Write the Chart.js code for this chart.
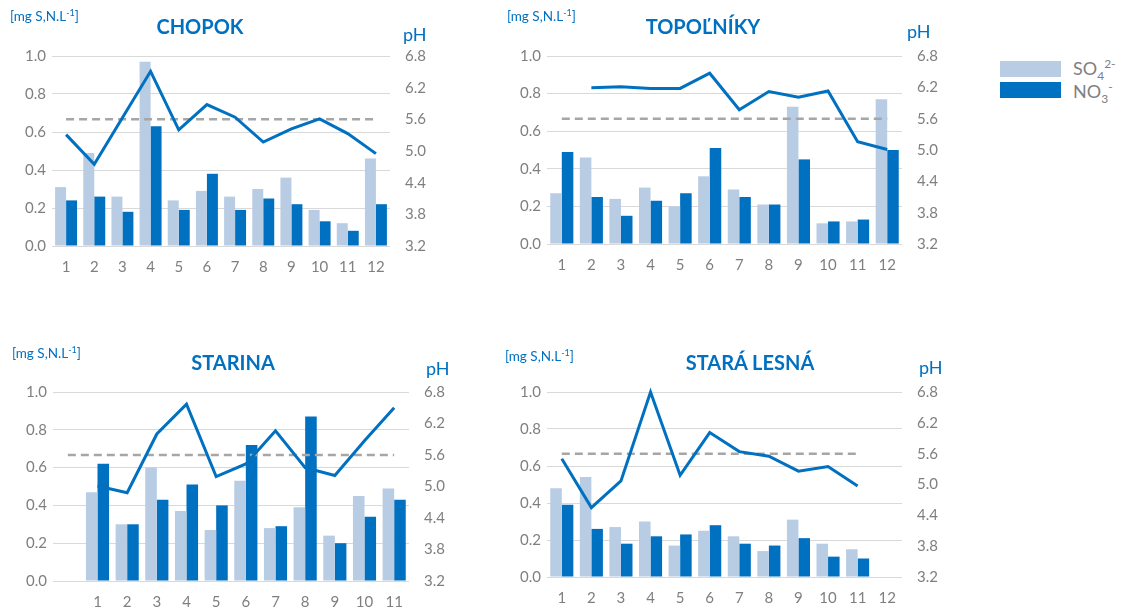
<!DOCTYPE html>
<html>
<head>
<meta charset="utf-8">
<script src="https://cdn.jsdelivr.net/npm/chart.js@4"></script>
<style>
  body { margin: 0; background: #fff; width: 1127px; height: 610px; position: relative; overflow: hidden; font-family: Lato, sans-serif; }
  canvas { position: absolute; }
  .title { position: absolute; transform: translateX(-50%); font-weight: bold; font-size: 20px; color: #0070C0; white-space: nowrap; }
  .unit { position: absolute; font-size: 13.5px; color: #0070C0; white-space: nowrap; }
  .unit sup { font-size: 9px; vertical-align: 5px; line-height: 0; }
  .ph { position: absolute; font-size: 18px; color: #0070C0; }
  .legbox { position: absolute; width: 61px; height: 16px; }
  .legtxt { position: absolute; font-size: 18px; color: #7f7f7f; white-space: nowrap; }
  .legtxt sub, .legtxt sup { font-size: 12px; line-height: 0; }
</style>
</head>
<body>
<canvas id="c1" width="440" height="258" style="left:0px;top:32px"></canvas>
<canvas id="c2" width="460" height="258" style="left:490px;top:32px"></canvas>
<canvas id="c3" width="460" height="242" style="left:0px;top:368px"></canvas>
<canvas id="c4" width="460" height="242" style="left:490px;top:368px"></canvas>

<div class="title" style="left:200px;top:14px">CHOPOK</div>
<div class="title" style="left:703px;top:14px">TOPOĽNÍKY</div>
<div class="title" style="left:233px;top:350px">STARINA</div>
<div class="title" style="left:750px;top:350px">STARÁ LESNÁ</div>

<div class="unit" style="left:10px;top:8px">[mg S,N.L<sup>-1</sup>]</div>
<div class="unit" style="left:507px;top:8px">[mg S,N.L<sup>-1</sup>]</div>
<div class="unit" style="left:12px;top:345px">[mg S,N.L<sup>-1</sup>]</div>
<div class="unit" style="left:505px;top:348px">[mg S,N.L<sup>-1</sup>]</div>

<div class="ph" style="left:403px;top:23px">pH</div>
<div class="ph" style="left:907px;top:20px">pH</div>
<div class="ph" style="left:426px;top:357px">pH</div>
<div class="ph" style="left:919px;top:356px">pH</div>

<div class="legbox" style="left:1000px;top:61px;background:#B8CCE4"></div>
<div class="legbox" style="left:1000px;top:82px;background:#0070C0"></div>
<div class="legtxt" style="left:1073px;top:57px">SO<sub>4</sub><sup>2-</sup></div>
<div class="legtxt" style="left:1073px;top:80px">NO<sub>3</sub><sup>-</sup></div>

<script>
const months = ['1', '2', '3', '4', '5', '6', '7', '8', '9', '10', '11', '12'];
const starinaLabels = ['', '1', '2', '3', '4', '5', '6', '7', '8', '9', '10', '11'];
const phLimit = 5.6;

const chopokSO4 = [0.31, 0.49, 0.26, 0.97, 0.24, 0.29, 0.26, 0.30, 0.36, 0.19, 0.12, 0.46];
const chopokNO3 = [0.24, 0.26, 0.18, 0.63, 0.19, 0.38, 0.19, 0.25, 0.22, 0.13, 0.08, 0.22];
const chopokPH = [5.31, 4.75, 5.63, 6.51, 5.40, 5.88, 5.64, 5.17, 5.42, 5.61, 5.33, 4.95];

const topolSO4 = [0.27, 0.46, 0.24, 0.30, 0.20, 0.36, 0.29, 0.21, 0.73, 0.11, 0.12, 0.77];
const topolNO3 = [0.49, 0.25, 0.15, 0.23, 0.27, 0.51, 0.25, 0.21, 0.45, 0.12, 0.13, 0.50];
const topolPH = [null, 6.19, 6.21, 6.18, 6.18, 6.47, 5.77, 6.12, 6.01, 6.13, 5.16, 5.01];

const starinaSO4 = [null, 0.47, 0.30, 0.60, 0.37, 0.27, 0.53, 0.28, 0.39, 0.24, 0.45, 0.49];
const starinaNO3 = [null, 0.62, 0.30, 0.43, 0.51, 0.40, 0.72, 0.29, 0.87, 0.20, 0.34, 0.43];
const starinaPH = [null, 5.01, 4.88, 6.00, 6.57, 5.19, 5.43, 6.06, 5.36, 5.21, 5.87, 6.50];

const lesnaSO4 = [0.48, 0.54, 0.27, 0.30, 0.17, 0.25, 0.22, 0.14, 0.31, 0.18, 0.15, null];
const lesnaNO3 = [0.39, 0.26, 0.18, 0.22, 0.23, 0.28, 0.18, 0.17, 0.21, 0.11, 0.10, null];
const lesnaPH = [5.50, 4.55, 5.07, 6.80, 5.18, 6.01, 5.64, 5.55, 5.26, 5.35, 4.97, null];

const tickFont = { family: 'Lato', size: 15 };
const grey = '#7f7f7f';

// box: axis sizes around the chart area, in canvas pixels
function makeChart(id, labels, so4, no3, ph, limitCount, box) {
  const limit = labels.map((l, i) => i < limitCount ? phLimit : null);
  new Chart(document.getElementById(id), {
    type: 'bar',
    data: {
      labels: labels,
      datasets: [
        { type: 'line', data: ph, yAxisID: 'y1', borderColor: '#0070C0', borderWidth: 3,
          pointRadius: 0, tension: 0, order: 0, clip: false },
        { type: 'line', data: limit, yAxisID: 'y1', borderColor: '#A6A6A6', borderWidth: 2.5,
          borderDash: [8, 5], pointRadius: 0, tension: 0, order: 1 },
        { data: so4, backgroundColor: '#B8CCE4', categoryPercentage: 0.78, barPercentage: 1, order: 2 },
        { data: no3, backgroundColor: '#0070C0', categoryPercentage: 0.78, barPercentage: 1, order: 2 }
      ]
    },
    options: {
      responsive: false,
      animation: false,
      layout: { padding: 0 },
      plugins: { legend: { display: false }, tooltip: { enabled: false } },
      scales: {
        x: {
          grid: { display: false, drawTicks: false },
          border: { display: false },
          ticks: { color: grey, font: tickFont, padding: 12, maxRotation: 0, autoSkip: false },
          afterFit: s => { s.height = box.bottom; }
        },
        y: {
          min: 0, max: 1, position: 'left',
          grid: { color: '#d9d9d9', drawTicks: false },
          border: { display: false },
          ticks: { stepSize: 0.2, color: grey, font: tickFont, padding: 6, callback: v => v.toFixed(1) },
          afterFit: s => { s.width = box.left; }
        },
        y1: {
          min: 3.2, max: 6.8, position: 'right',
          grid: { display: false, drawTicks: false },
          border: { display: false },
          ticks: { stepSize: 0.6, color: grey, font: tickFont, padding: 15, callback: v => v.toFixed(1) },
          afterFit: s => { s.width = box.right; }
        }
      }
    }
  });
}

makeChart('c1', months, chopokSO4, chopokNO3, chopokPH, 12, { left: 52, right: 50, bottom: 44 });
makeChart('c2', months, topolSO4, topolNO3, topolPH, 12, { left: 57, right: 48, bottom: 46 });
makeChart('c3', starinaLabels, starinaSO4, starinaNO3, starinaPH, 12, { left: 53, right: 51, bottom: 29 });
makeChart('c4', months, lesnaSO4, lesnaNO3, lesnaPH, 11, { left: 57, right: 48, bottom: 33 });
</script>
</body>
</html>
